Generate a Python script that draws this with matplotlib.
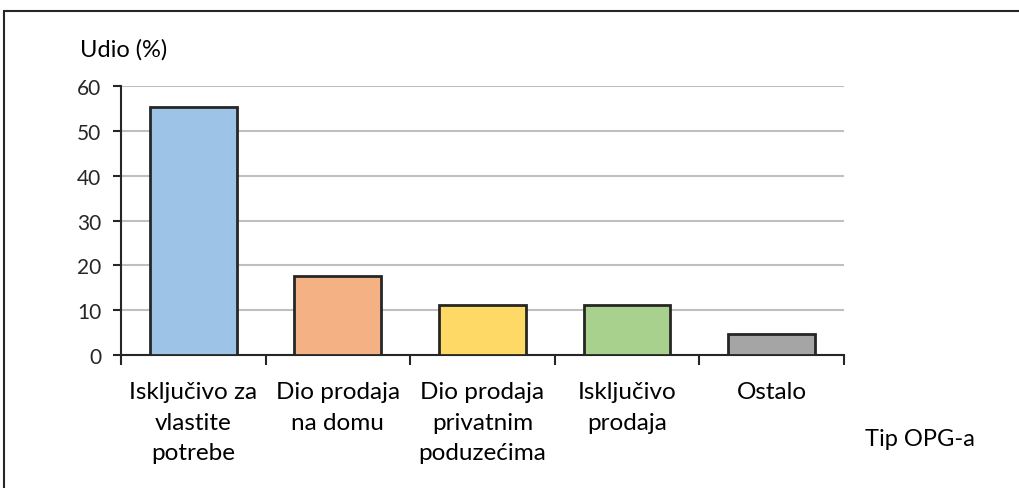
import matplotlib
matplotlib.use("Agg")
import matplotlib.pyplot as plt
from matplotlib.patches import Rectangle

categories = ["Isključivo za\nvlastite\npotrebe", "Dio prodaja\nna domu",
              "Dio prodaja\nprivatnim\npoduzećima", "Isključivo\nprodaja", "Ostalo"]
values = [55.3, 17.6, 11.2, 11.2, 4.7]
colors = ["#9DC3E6", "#F4B183", "#FFD966", "#A9D18E", "#A5A5A5"]
yticks = [0, 10, 20, 30, 40, 50, 60]

plt.rcParams['font.family'] = ['Lato', 'DejaVu Sans']
dark = "#262626"

fig = plt.figure(figsize=(10.19, 4.89), dpi=100)
ax = fig.add_axes([0.1187, 0.272, 0.7096, 0.550])

x = list(range(len(categories)))
ax.bar(x, values, width=0.6, color=colors, edgecolor=dark, linewidth=2, zorder=3)

ax.set_xlim(-0.5, len(categories) - 0.5)
ax.set_ylim(0, 60)
ax.set_yticks(yticks)
ax.set_yticklabels([str(t) for t in yticks], fontsize=15, color=dark)
ax.yaxis.grid(True, color="#BFBFBF", linewidth=1.5, zorder=0)
ax.set_axisbelow(True)

ax.set_xticks(x)
ax.set_xticklabels(categories, fontsize=17.5, color="black", linespacing=1.55)
ax.tick_params(axis='x', which='major', length=0, pad=19)
ax.set_xticks([i - 0.5 for i in range(len(categories) + 1)], minor=True)
ax.tick_params(axis='x', which='minor', length=7, width=1.5, color=dark, direction='out')
ax.tick_params(axis='y', length=6, width=1.5, color=dark, pad=8)

for s in ['top', 'right']:
    ax.spines[s].set_visible(False)
for s in ['left', 'bottom']:
    ax.spines[s].set_color(dark)
    ax.spines[s].set_linewidth(1.5)

fig.text(80 / 1019, 1 - 50 / 489, "Udio (%)", fontsize=17, va='center', ha='left')
fig.text(865 / 1019, 1 - 440 / 489, "Tip OPG-a", fontsize=17, va='center', ha='left')

fig.patches.append(Rectangle((4 / 1019, -0.1), 1.2, 1 - 12 / 489 + 0.1,
                             transform=fig.transFigure, fill=False,
                             edgecolor=dark, linewidth=1.5))

fig.savefig("out.png", dpi=100)
